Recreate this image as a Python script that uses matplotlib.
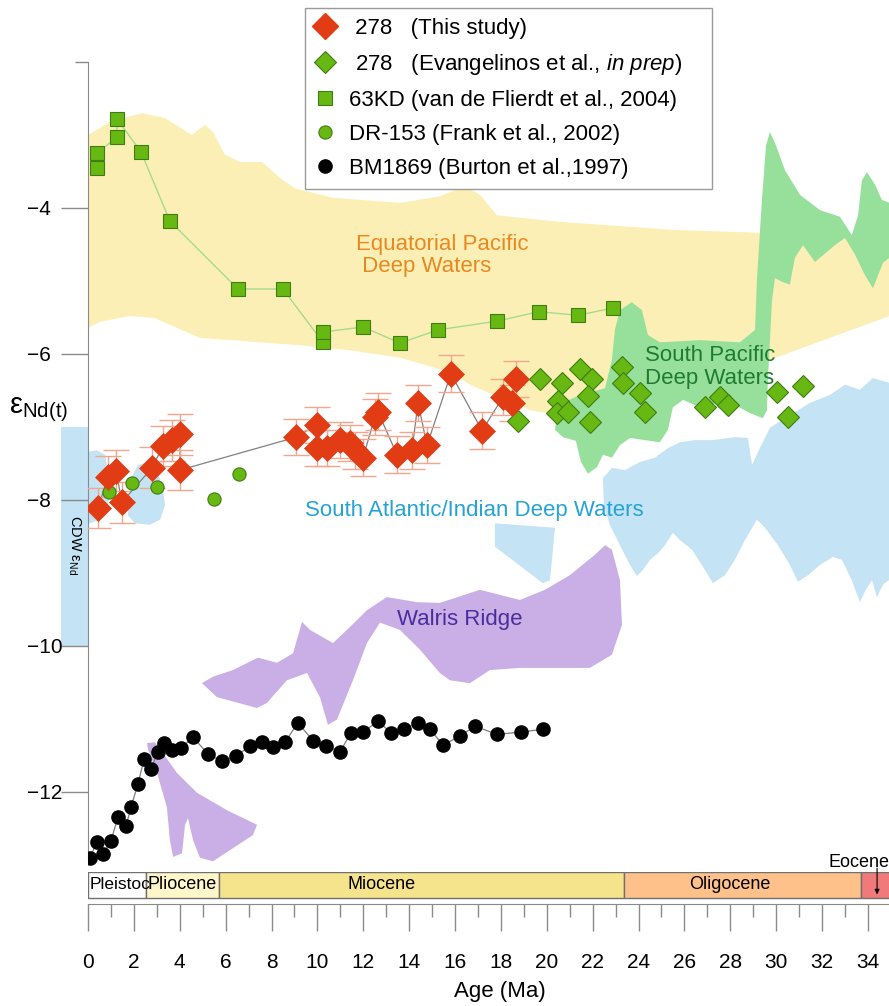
"""
Nd isotope record of Site 278 compared with other Pacific / Southern Ocean records
"""
import numpy as np
import matplotlib
matplotlib.use('Agg')
import matplotlib.pyplot as plt
from matplotlib.patches import Polygon, Rectangle
from matplotlib.lines import Line2D

plt.rcParams['font.family'] = ['Liberation Sans', 'DejaVu Sans']
plt.rcParams['mathtext.fontset'] = 'custom'
plt.rcParams['mathtext.rm'] = 'Liberation Sans'
plt.rcParams['mathtext.it'] = 'Liberation Sans:italic'

##------------------------------------------
# Site 278 (this study)
age_278 = [0.44, 0.87, 1.22, 1.48, 2.79, 3.27, 3.66, 4.01, 4.01, 9.07, 9.98, 9.98, 10.42,
           10.99, 11.42, 11.64, 11.99, 12.51, 12.64, 13.47, 14.12, 14.39, 14.78, 15.82,
           17.18, 18.09, 18.48, 18.66]
eps_278 = [-8.11, -7.68, -7.60, -8.03, -7.56, -7.26, -7.18, -7.10, -7.59, -7.14, -6.97, -7.29,
           -7.29, -7.18, -7.22, -7.32, -7.42, -6.86, -6.79, -7.38, -7.32, -6.67, -7.25, -6.27,
           -7.05, -6.59, -6.67, -6.34]
err_278 = [0.28, 0.28, 0.28, 0.28, 0.28, 0.28, 0.28, 0.28, 0.28, 0.25, 0.25, 0.25, 0.25,
           0.25, 0.25, 0.25, 0.25, 0.25, 0.25, 0.25, 0.25, 0.25, 0.25, 0.25,
           0.25, 0.25, 0.25, 0.25]

# Site 278 (Evangelinos et al., in prep)
age_evan = [18.74, 19.70, 20.66, 20.49, 20.44, 20.92, 21.45, 21.97, 21.80, 21.88, 23.28, 23.32,
            24.06, 24.28, 26.90, 27.55, 27.90, 30.04, 31.17, 30.51]
eps_evan = [-6.92, -6.34, -6.40, -6.64, -6.81, -6.79, -6.21, -6.34, -6.58, -6.93, -6.18, -6.40,
            -6.53, -6.79, -6.73, -6.59, -6.70, -6.52, -6.44, -6.86]

# 63KD (van de Flierdt et al., 2004)
age_63kd = [0.39, 0.39, 1.26, 1.26, 2.31, 3.57, 6.54, 8.50, 10.24, 10.24, 11.99, 13.60, 15.26,
            17.83, 19.66, 21.36, 22.89]
eps_63kd = [-3.45, -3.25, -3.03, -2.78, -3.23, -4.18, -5.11, -5.11, -5.84, -5.70, -5.63, -5.85,
            -5.67, -5.55, -5.42, -5.47, -5.37]

# DR-153 (Frank et al., 2002)
age_dr153 = [0.92, 1.92, 3.01, 4.10, 5.49, 6.58]
eps_dr153 = [-7.89, -7.77, -7.82, -7.59, -7.99, -7.64]

# BM1869 (Burton et al., 1997)
age_bm = [0.09, 0.39, 0.65, 1.00, 1.31, 1.66, 1.87, 2.18, 2.44, 2.75, 3.05, 3.31, 3.66, 4.05,
          4.58, 5.23, 5.84, 6.45, 7.06, 7.59, 8.06, 8.59, 9.15, 9.81, 10.37, 10.99, 11.46, 11.99,
          12.64, 13.21, 13.78, 14.39, 14.91, 15.48, 16.22, 16.87, 17.83, 18.88, 19.83]
eps_bm = [-12.90, -12.68, -12.85, -12.67, -12.34, -12.47, -12.21, -11.89, -11.55, -11.68, -11.45,
          -11.33, -11.42, -11.40, -11.25, -11.48, -11.58, -11.51, -11.37, -11.32, -11.38, -11.32,
          -11.05, -11.30, -11.37, -11.45, -11.19, -11.18, -11.03, -11.19, -11.14, -11.05, -11.14,
          -11.36, -11.23, -11.10, -11.21, -11.18, -11.14]

# water mass fields (outline age, outline eps)
eqpac_age = [0, 0.96, 2.35, 3.36, 4.53, 5.10, 5.45, 5.97, 6.63, 7.59, 8.37, 9.02, 10.68, 13.60,
             15.34, 16.43, 17.09, 17.83, 20.58, 25.50, 29.29, 35.2,
             35.2, 29.73, 26.7, 23.2, 20.58, 19.27, 17.96, 16.65, 15.78, 13.60, 11.42, 9.24,
             4.88, 2.92, 1.83, 0.52, 0]
eqpac_eps = [-3.00, -2.82, -2.70, -2.77, -3.00, -2.86, -2.96, -3.27, -3.37, -3.37, -3.59, -3.73,
             -3.86, -3.93, -3.84, -3.70, -3.82, -4.10, -4.19, -4.30, -4.34, -4.38,
             -5.45, -6.08, -6.35, -6.77, -6.84, -6.77, -6.60, -6.42, -6.25, -6.05, -5.95, -5.88,
             -5.78, -5.51, -5.48, -5.56, -5.64]

spac_age = [20.36, 20.49, 21.45, 22.54, 22.84, 22.97, 23.19, 23.71, 24.15, 24.41, 24.93, 26.68,
            28.42, 29.08, 29.16, 29.38, 29.56, 29.73, 29.99, 30.38, 31.04, 31.91, 32.78, 33.30,
            33.57, 33.74, 33.96, 34.31, 34.61, 35.2, 35.2, 34.66, 34.22, 33.87, 33.44, 33.00,
            32.56, 31.69, 31.17, 30.82, 30.60, 30.25, 29.95, 29.82, 29.73, 29.64, 29.60, 29.42,
            28.86, 28.20, 27.33, 26.46, 25.94, 25.50, 25.28, 24.93, 24.28, 23.63, 23.19, 22.84,
            22.45, 22.19, 21.80, 21.49, 21.27, 20.71]
spac_eps = [-7.04, -6.70, -6.56, -6.47, -6.08, -5.67, -5.40, -5.29, -5.40, -5.74, -5.84, -5.81,
            -5.84, -5.67, -4.99, -3.89, -3.14, -2.96, -3.14, -3.48, -3.82, -4.03, -4.12, -4.37,
            -4.10, -3.62, -3.51, -3.68, -3.89, -3.96, -4.62, -4.75, -5.10, -4.92, -4.64, -4.41,
            -4.51, -4.74, -4.51, -4.68, -5.05, -5.01, -4.96, -5.26, -5.81, -6.36, -6.77, -6.88,
            -6.81, -6.70, -6.68, -6.70, -6.63, -6.73, -7.04, -7.21, -7.18, -7.15, -7.25, -7.42,
            -7.38, -7.55, -7.64, -7.48, -7.19, -7.14]

satl_a_age = [0, 0.39, 0.74, 0.87, 0.96, 0.83, 0.52, 0.09, 0]
satl_a_eps = [-7.34, -7.32, -7.38, -7.59, -7.86, -8.14, -8.27, -8.32, -8.32]
satl_b_age = [1.74, 1.83, 2.18, 2.70, 3.05, 3.27, 3.36, 3.14, 2.70, 2.05]
satl_b_eps = [-8.21, -7.73, -7.52, -7.48, -7.62, -7.86, -8.07, -8.27, -8.34, -8.32]
satl_c_age = [17.74, 20.36, 20.14, 19.83, 17.74]
satl_c_eps = [-8.32, -8.38, -9.10, -9.14, -8.64]
satl_d_age = [22.45, 22.84, 23.41, 24.06, 24.72, 25.28, 25.81, 26.46, 27.20, 28.20, 28.77, 28.95,
              29.29, 29.73, 30.60, 31.47, 32.35, 33.00, 33.65, 34.22, 35.2, 35.2, 34.66, 34.39,
              34.18, 33.91, 33.65, 33.30, 32.87, 32.48, 31.91, 31.39, 30.95, 30.60, 30.08, 29.51,
              29.16, 28.64, 28.20, 27.77, 27.24, 26.90, 26.33, 25.81, 25.50, 25.15, 24.85, 24.50,
              24.19, 23.93, 23.63, 23.19, 22.75, 22.49]
satl_d_eps = [-7.70, -7.56, -7.59, -7.48, -7.42, -7.29, -7.21, -7.18, -7.18, -7.14, -7.15, -7.52,
              -7.29, -7.01, -6.84, -6.67, -6.56, -6.42, -6.49, -6.33, -6.42, -9.03, -9.16, -9.33,
              -9.10, -9.23, -9.40, -9.10, -8.82, -8.78, -8.89, -9.03, -9.12, -8.89, -8.62, -8.38,
              -8.27, -8.55, -8.82, -9.03, -9.14, -8.96, -8.68, -8.55, -8.45, -8.62, -8.73, -8.82,
              -8.96, -9.04, -8.89, -8.62, -8.34, -8.07]

walvis_a_age = [4.97, 5.45, 6.32, 7.41, 8.24, 8.94, 9.33, 9.68, 10.68, 11.42, 12.16, 13.03, 14.34,
                15.34, 17.09, 18.83, 19.92, 21.01, 22.10, 22.54, 22.84, 23.19, 23.28, 22.84, 21.88,
                20.58, 18.83, 17.52, 16.65, 15.78, 15.34, 14.47, 13.60, 12.73, 12.16, 11.55, 10.85,
                10.46, 10.11, 9.55, 8.67, 7.80, 7.37, 5.62]
walvis_a_eps = [-10.51, -10.42, -10.33, -10.16, -10.23, -10.10, -9.67, -9.78, -9.96, -9.74, -9.51,
                -9.33, -9.40, -9.41, -9.23, -9.37, -9.23, -9.03, -8.75, -8.62, -8.68, -9.10, -9.71,
                -10.12, -10.30, -10.30, -10.30, -10.33, -10.51, -10.47, -10.37, -10.05, -9.78,
                -9.68, -9.96, -10.47, -11.01, -11.08, -10.70, -10.37, -10.47, -10.78, -10.85, -10.70]
walvis_b_age = [2.57, 2.92, 3.27, 3.88, 4.75, 6.06, 7.37, 7.19, 6.32, 5.45, 4.88, 4.58, 4.36, 4.23,
                4.10, 3.71, 3.57, 3.44, 3.01, 2.62]
walvis_b_eps = [-11.33, -11.32, -11.47, -11.74, -12.01, -12.25, -12.45, -12.59, -12.77, -12.95,
                -12.90, -12.66, -12.36, -12.45, -12.84, -12.89, -12.66, -12.21, -11.74, -11.42]

# geological time scale (label of the first box is cut off in the original)
epochs = ['Pleistoc', 'Pliocene', 'Miocene', 'Oligocene', 'Eocene']
epoch_start = [0, 2.55, 5.7, 23.35, 33.7]
epoch_end = [2.55, 5.7, 23.35, 33.7, 36.0]
epoch_col = ['#ffffff', '#fff7c9', '#f6e48c', '#fdc189', '#f07a7a']
epoch_label_age = [0.05, 4.12, 12.8, 28.0]

red = '#e13c14'
green = '#67b813'
green_edge = '#3f7d12'

W, H = 889.0, 1006.0
fig = plt.figure(figsize=(W / 100, H / 100), dpi=100)
fig.patch.set_facecolor('white')

#------------------------------------------------------------
# main panel
ax = fig.add_axes([88 / W, 1 - 866 / H, 801 / W, 866 / H])
ax.set_facecolor('none')
ax.set_xlim(0, 34.92)
ax.set_ylim(-13.014, -1.151)

fields = [(eqpac_age, eqpac_eps, '#fcefb5'),
          (spac_age, spac_eps, '#97e09c'),
          (satl_a_age, satl_a_eps, '#c4e3f4'),
          (satl_b_age, satl_b_eps, '#c4e3f4'),
          (satl_c_age, satl_c_eps, '#c4e3f4'),
          (satl_d_age, satl_d_eps, '#c4e3f4'),
          (walvis_a_age, walvis_a_eps, '#c9afe6'),
          (walvis_b_age, walvis_b_eps, '#c9afe6')]
for fa, fe, fc in fields:
    ax.add_patch(Polygon(np.column_stack([fa, fe]), closed=True, fc=fc, ec='none', zorder=1))

# CDW bar left of the axis
ax.add_patch(Rectangle((-1.18, -10.0), 1.18, 3.0, fc='#c4e3f4', ec='none', clip_on=False, zorder=1))
ax.text(-0.6, -8.62, r'CDW ε$_{\mathrm{Nd}}$', rotation=270, ha='center', va='center',
        fontsize=10.5, clip_on=False, zorder=2)

ax.text(11.68, -4.65, 'Equatorial Pacific\n Deep Waters', color='#e8891f', fontsize=16,
        ha='left', va='center', linespacing=1.1, zorder=2)
ax.text(24.28, -6.18, 'South Pacific\nDeep Waters', color='#1e7b2f', fontsize=16,
        ha='left', va='center', linespacing=1.1, zorder=2)
ax.text(9.46, -8.14, 'South Atlantic/Indian Deep Waters', color='#25a3d6', fontsize=16,
        ha='left', va='center', zorder=2)
ax.text(13.47, -9.64, 'Walris Ridge', color='#4a2d9d', fontsize=16,
        ha='left', va='center', zorder=2)

# connecting lines
ax.plot(age_63kd, eps_63kd, color='#a6da8c', lw=1, zorder=3)
ax.plot(age_bm, eps_bm, color='#7f7f7f', lw=0.9, zorder=3)
ax.plot(age_278, eps_278, color='#808080', lw=0.9, zorder=3)
ax.errorbar(age_278, eps_278, yerr=err_278, fmt='none', ecolor='#f4a68d', elinewidth=1,
            capsize=9.5, capthick=1, zorder=4)

# markers
ax.plot(age_63kd, eps_63kd, ls='', marker='s', ms=9.5, mfc=green, mec=green_edge, mew=0.8, zorder=5)
ax.plot(age_bm, eps_bm, ls='', marker='o', ms=9.5, mfc='black', mec='black', zorder=5)
ax.plot(age_dr153, eps_dr153, ls='', marker='o', ms=9.5, mfc=green, mec=green_edge, mew=0.8, zorder=6)
ax.plot(age_evan, eps_evan, ls='', marker='D', ms=11, mfc=green, mec=green_edge, mew=0.8, zorder=6)
ax.plot(age_278, eps_278, ls='', marker='D', ms=13, mfc=red, mec=red, mew=0.5, zorder=6)

for side in ['top', 'right', 'bottom']:
    ax.spines[side].set_visible(False)
ax.spines['left'].set_bounds(-12.95, -2)
ax.spines['left'].set_color('#8a8a8a')
ax.set_yticks([-4, -6, -8, -10, -12])
ax.set_yticks([-2], minor=True)
ax.tick_params(axis='y', which='major', direction='out', length=19.4, width=1, color='#8a8a8a',
               pad=24.5, labelsize=15)
ax.tick_params(axis='y', which='minor', direction='out', length=9.4, width=1, color='#8a8a8a',
               labelleft=False)
for lab in ax.get_yticklabels():
    lab.set_horizontalalignment('left')
ax.tick_params(axis='x', bottom=False, labelbottom=False)

fig.text(9 / W, 1 - 410 / H, r'ε$_{\mathrm{Nd(t)}}$', fontsize=21, ha='left', va='center')

# legend
handles = [Line2D([], [], ls='', marker='D', ms=13, mfc=red, mec=red),
           Line2D([], [], ls='', marker='D', ms=11, mfc=green, mec=green_edge, mew=0.8),
           Line2D([], [], ls='', marker='s', ms=9.5, mfc=green, mec=green_edge, mew=0.8),
           Line2D([], [], ls='', marker='o', ms=9.5, mfc=green, mec=green_edge, mew=0.8),
           Line2D([], [], ls='', marker='o', ms=9.5, mfc='black', mec='black')]
labels = [' 278   (This study)',
          r' 278   (Evangelinos et al., $\mathit{in\ prep}$)',
          '63KD (van de Flierdt et al., 2004)    ',
          'DR-153 (Frank et al., 2002)',
          'BM1869 (Burton et al.,1997)']
leg = fig.legend(handles, labels, loc='upper left', bbox_to_anchor=(305 / W, 1 - 8 / H),
                 bbox_transform=fig.transFigure, fontsize=16, frameon=True, fancybox=False,
                 framealpha=1, edgecolor='#9a9a9a', borderaxespad=0, borderpad=0.45,
                 handlelength=0.9, handletextpad=0.65, labelspacing=0.58, numpoints=1)
leg.get_frame().set_linewidth(1)

#------------------------------------------------------------
# time scale + age axis
ax2 = fig.add_axes([88 / W, 1 - 904 / H, 801 / W, 32 / H])
ax2.set_facecolor('none')
ax2.set_xlim(0, 34.92)
ax2.set_ylim(0, 1)
for i in range(len(epochs)):
    ax2.add_patch(Rectangle((epoch_start[i], 0.19), epoch_end[i] - epoch_start[i], 0.81,
                            fc=epoch_col[i], ec='#707070', lw=1, zorder=1))
    if i == 0:
        ax2.text(epoch_label_age[i], 0.6, epochs[i], ha='left', va='center', fontsize=12.5,
                 zorder=2)
    elif i < 4:
        ax2.text(epoch_label_age[i], 0.6, epochs[i], ha='center', va='center', fontsize=13,
                 zorder=2)
ax2.text(32.3, 1.31, 'Eocene', ha='left', va='center', fontsize=13, clip_on=False)
ax2.annotate('', xy=(34.4, 0.3), xytext=(34.4, 1.12), annotation_clip=False,
             arrowprops=dict(arrowstyle='-|>', lw=0.8, color='black', mutation_scale=7,
                             shrinkA=0, shrinkB=0))

for side in ['top', 'right', 'left']:
    ax2.spines[side].set_visible(False)
ax2.spines['bottom'].set_color('#8a8a8a')
ax2.set_yticks([])
ax2.set_xticks(np.arange(0, 35, 2))
ax2.set_xticks(np.arange(1, 35, 2), minor=True)
ax2.tick_params(axis='x', which='major', direction='out', length=19.4, width=1, color='#8a8a8a',
                pad=16, labelsize=15)
ax2.tick_params(axis='x', which='minor', direction='out', length=9.4, width=1, color='#8a8a8a')

fig.text(500 / W, 1 - 992 / H, 'Age (Ma)', fontsize=16, ha='center', va='center')

fig.savefig('out.png', dpi=100)
